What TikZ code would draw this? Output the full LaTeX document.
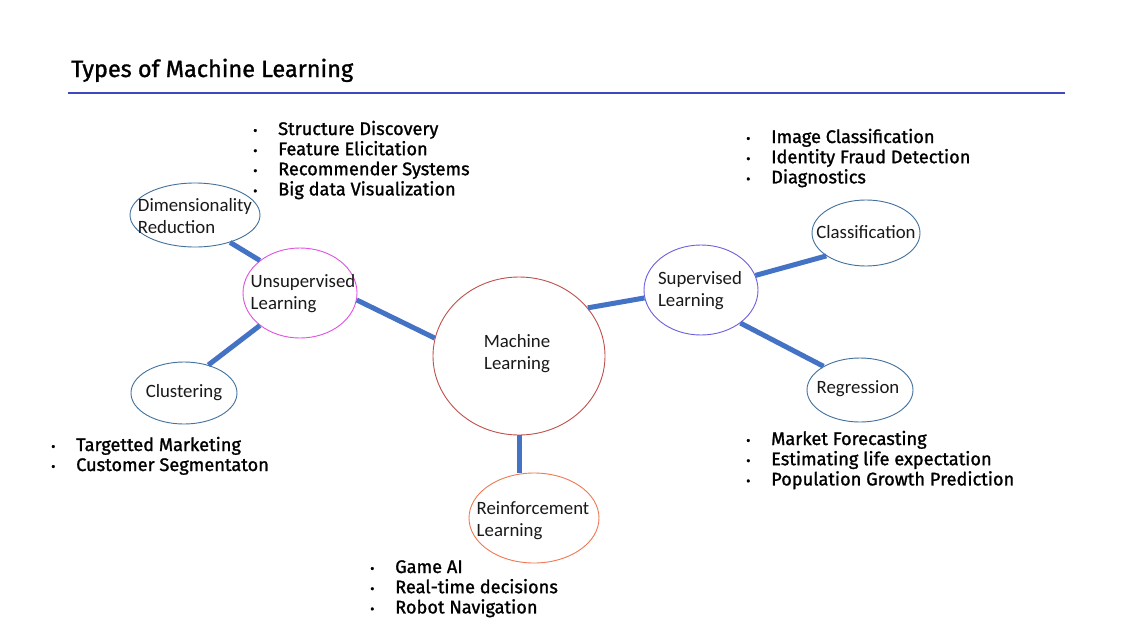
\documentclass[tikz,border=0pt]{standalone}
\usepackage{fontspec}
\setmainfont{Carlito}
\newfontfamily\listfont{Fira Sans}[FakeBold=1.2]
\usetikzlibrary{shapes.geometric}
\definecolor{conn}{HTML}{4472C4}
\definecolor{leafc}{HTML}{41719C}
\definecolor{unsc}{HTML}{E050E0}
\definecolor{supc}{HTML}{6A5FE0}
\definecolor{mlc}{HTML}{C0504D}
\definecolor{rlc}{HTML}{F07850}
\definecolor{rulec}{HTML}{4048C0}
\newcommand{\blt}{\makebox[26pt][l]{\hspace{1pt}\fontsize{13}{13}\selectfont •}}
\begin{document}
\begin{tikzpicture}[x=1pt,y=-1pt,
  oval/.style={ellipse,draw,line width=0.9pt,inner sep=0pt},
  lbl/.style={font=\fontsize{18.8}{22}\selectfont,align=left,text=black!90,inner sep=0pt},
  link/.style={conn,line width=5pt},
  blist/.style={anchor=base west,inner sep=0pt,font=\listfont\fontsize{18.2}{20}\selectfont,text=black}]
\useasboundingbox (0,0) rectangle (1141,640);
\fill[white] (0,0) rectangle (1141,640);
% title
\node[anchor=base west,inner sep=0pt,font=\listfont\fontsize{23.5}{26}\selectfont] (title) at (71,77) {Types of Machine Learning};
\coordinate (rl) at (68,93);
\coordinate (rr) at (1065,93);
\draw[rulec,line width=1.4pt] (rl) -- (rr);
% ellipses
\node[oval,draw=leafc,minimum width=130pt,minimum height=64pt] (dim) at (195,215) {};
\node[oval,draw=unsc,minimum width=114pt,minimum height=90pt] (uns) at (300,293) {};
\node[oval,draw=leafc,minimum width=106pt,minimum height=62pt] (clu) at (184,393) {};
\node[oval,draw=mlc,minimum width=172pt,minimum height=158pt] (ml) at (519,356) {};
\node[oval,draw=supc,minimum width=114pt,minimum height=90pt] (sup) at (701,290) {};
\node[oval,draw=leafc,minimum width=108pt,minimum height=66pt] (cls) at (866,233) {};
\node[oval,draw=leafc,minimum width=106pt,minimum height=64pt] (reg) at (860,390) {};
\node[oval,draw=rlc,minimum width=130pt,minimum height=90pt] (rlr) at (534,518) {};
% labels
\node[lbl] (dimt) at (195,216) {Dimensionality\\Reduction};
\node[lbl] (unst) at (303,294) {Unsupervised\\Learning};
\node[lbl] (clut) at (184,393) {Clustering};
\node[lbl,align=center] (mlt) at (517,354) {Machine\\Learning};
\node[lbl] (supt) at (700,291) {Supervised\\Learning};
\node[lbl] (clst) at (866,232) {Classification};
\node[lbl] (regt) at (858,389) {Regression};
\node[lbl] (rlrt) at (533,521) {Reinforcement\\Learning};
% connectors
\draw[link] (dim.-38) -- (uns.141);
\draw[link] (uns.-141) -- (clu.49);
\draw[link] (uns.-7) -- (ml.168);
\draw[link] (ml.35) -- (sup.188);
\draw[link] (sup.15) -- (cls.210);
\draw[link] (sup.-40) -- (reg.147);
\draw[link] (ml.south) -- (ml.south |- rlr.north);
% bullet lists
\node[blist] (l1) at (252,135) {\begin{tabular}[t]{@{}l@{}l@{}}\blt&Structure Discovery\\\blt&Feature Elicitation\\\blt&Recommender Systems\\\blt&Big data Visualization\end{tabular}};
\node[blist] (l2) at (745,143) {\begin{tabular}[t]{@{}l@{}l@{}}\blt&Image Classification\\\blt&Identity Fraud Detection\\\blt&Diagnostics\end{tabular}};
\node[blist] (l3) at (50,451) {\begin{tabular}[t]{@{}l@{}l@{}}\blt&Targetted Marketing\\\blt&Customer Segmentaton\end{tabular}};
\node[blist] (l4) at (745,445) {\begin{tabular}[t]{@{}l@{}l@{}}\blt&Market Forecasting\\\blt&Estimating life expectation\\\blt&Population Growth Prediction\end{tabular}};
\node[blist] (l5) at (369,573) {\begin{tabular}[t]{@{}l@{}l@{}}\blt&Game AI\\\blt&Real-time decisions\\\blt&Robot Navigation\end{tabular}};
\end{tikzpicture}
\end{document}
